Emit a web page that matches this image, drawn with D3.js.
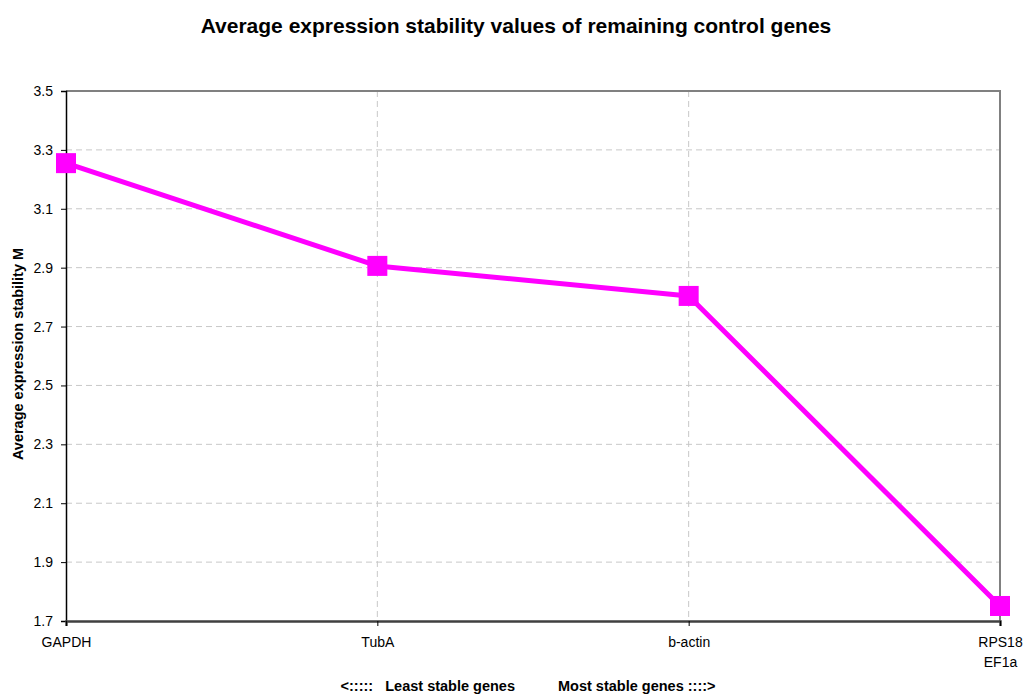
<!DOCTYPE html>
<html>
<head>
<meta charset="utf-8">
<script src="https://cdn.jsdelivr.net/npm/d3@7"></script>
<style>
  html, body { margin: 0; padding: 0; background: #fff; }
  svg { display: block; font-family: Arial, "Liberation Sans", sans-serif; }
</style>
</head>
<body>
<svg id="chart" width="1024" height="695"></svg>
<script>
// Genes ordered from least to most stable (last point holds the final pair)
const genes = ["GAPDH", "TubA", "b-actin", "RPS18\nEF1a"];
const stabilityM = [3.255, 2.906, 2.804, 1.751];
const yTicks = [1.7, 1.9, 2.1, 2.3, 2.5, 2.7, 2.9, 3.1, 3.3, 3.5];

const FONT = "Arial, 'Liberation Sans', sans-serif";
const svg = d3.select("#chart");
const plotL = 66, plotR = 1000, plotT = 91, plotB = 621;

const x = d3.scalePoint().domain(genes).range([plotL, plotR]).padding(0);
const y = d3.scaleLinear().domain([1.7, 3.5]).range([plotB, plotT]);

// Title
svg.append("text")
  .attr("x", 516).attr("y", 33)
  .attr("text-anchor", "middle")
  .attr("font-size", 21).attr("font-weight", "bold")
  .text("Average expression stability values of remaining control genes");

// Horizontal gridlines
svg.append("g").selectAll("line")
  .data(yTicks.filter(t => t > 1.7 && t < 3.5))
  .join("line")
  .attr("x1", plotL).attr("x2", plotR)
  .attr("y1", d => y(d)).attr("y2", d => y(d))
  .attr("stroke", "#c8c8c8").attr("stroke-width", 1)
  .attr("stroke-dasharray", "6,4");

// Vertical gridlines at inner categories
svg.append("g").selectAll("line")
  .data(genes.slice(1, -1))
  .join("line")
  .attr("x1", d => x(d)).attr("x2", d => x(d))
  .attr("y1", plotT).attr("y2", plotB)
  .attr("stroke", "#c8c8c8").attr("stroke-width", 1)
  .attr("stroke-dasharray", "6,4");

// Plot frame (top and right)
svg.append("path")
  .attr("d", `M${plotL},${plotT}H${plotR}V${plotB}`)
  .attr("fill", "none").attr("stroke", "#808080").attr("stroke-width", 2);

// Y axis
const yAxis = svg.append("g")
  .attr("transform", `translate(${plotL},0)`)
  .call(d3.axisLeft(y).tickValues(yTicks).tickFormat(d3.format(".1f")).tickSize(5).tickPadding(8));
yAxis.select(".domain").attr("stroke", "#000").attr("stroke-width", 1.5);
yAxis.selectAll(".tick line").attr("stroke", "#000");
yAxis.selectAll("text").attr("font-size", 14).attr("fill", "#000")
  .attr("font-family", FONT);

// X axis
const xAxis = svg.append("g")
  .attr("transform", `translate(0,${plotB})`)
  .call(d3.axisBottom(x).tickSize(5).tickPadding(8).tickFormat(""));
xAxis.select(".domain").attr("stroke", "#404040").attr("stroke-width", 2.5);
xAxis.selectAll(".tick line").attr("stroke", "#000");
xAxis.selectAll(".tick").each(function (d) {
  const t = d3.select(this).append("text")
    .attr("fill", "#000").attr("font-size", 14)
    .attr("text-anchor", "middle")
    .attr("font-family", FONT);
  d.split("\n").forEach((ln, i) => {
    t.append("tspan").attr("x", 0).attr("y", 26 + i * 20).text(ln);
  });
});

// Y axis title
svg.append("text")
  .attr("transform", "translate(23,354) rotate(-90)")
  .attr("text-anchor", "middle")
  .attr("font-size", 14.5).attr("font-weight", "bold")
  .text("Average expression stability M");

// X axis title, in two halves around the centre
const xTitle = svg.append("g")
  .attr("font-size", 14.5).attr("font-weight", "bold")
  .style("white-space", "pre");
xTitle.append("text")
  .attr("x", 515).attr("y", 691)
  .attr("text-anchor", "end")
  .attr("xml:space", "preserve")
  .text("<:::::   Least stable genes");
xTitle.append("text")
  .attr("x", 558).attr("y", 691)
  .attr("text-anchor", "start")
  .text("Most stable genes ::::>");

// Series line
const line = d3.line().x((d, i) => x(genes[i])).y(d => y(d));
svg.append("path")
  .datum(stabilityM)
  .attr("d", line)
  .attr("fill", "none").attr("stroke", "#ff00ff").attr("stroke-width", 5)
  .attr("stroke-linejoin", "round");

// Square markers
svg.append("g").selectAll("rect")
  .data(stabilityM)
  .join("rect")
  .attr("x", (d, i) => x(genes[i]) - 10)
  .attr("y", d => y(d) - 10)
  .attr("width", 20).attr("height", 20)
  .attr("fill", "#ff00ff");
</script>
</body>
</html>
